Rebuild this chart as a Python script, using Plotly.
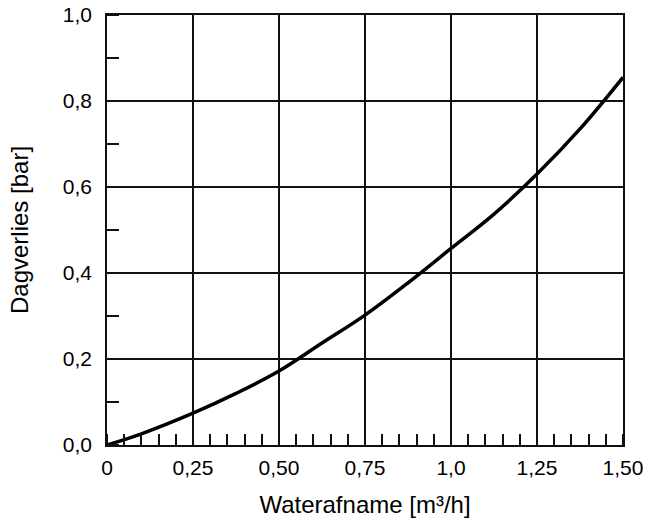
import plotly.graph_objects as go

# Data
flow = [0, 0.1, 0.25, 0.375, 0.5, 0.625, 0.75, 0.875, 1.0, 1.125, 1.25, 1.375, 1.5]
pressure_loss = [0, 0.026, 0.074, 0.12, 0.172, 0.237, 0.302, 0.377, 0.457, 0.537, 0.63, 0.735, 0.855]

x_tickvals = [0, 0.25, 0.5, 0.75, 1.0, 1.25, 1.5]
x_ticktext = ["0", "0,25", "0,50", "0,75", "1,0", "1,25", "1,50"]
y_tickvals = [0, 0.2, 0.4, 0.6, 0.8, 1.0]
y_ticktext = ["0,0", "0,2", "0,4", "0,6", "0,8", "1,0"]

font_family = "Liberation Sans, Arial, sans-serif"

fig = go.Figure()
fig.add_trace(go.Scatter(
    x=flow, y=pressure_loss, mode="lines",
    line=dict(color="black", width=3.5, shape="spline", smoothing=1.0),
    showlegend=False, hoverinfo="skip", cliponaxis=False,
))

axis_common = dict(
    showline=True, mirror=True, linecolor="#111", linewidth=1.5,
    showgrid=True, gridcolor="#111", gridwidth=1.5,
    zeroline=False, ticks="", automargin=False,
    tickfont=dict(family=font_family, size=21, color="black"),
)

fig.update_xaxes(
    range=[0, 1.5], tickvals=x_tickvals, ticktext=x_ticktext,
    ticklabelstandoff=3,
    title=dict(text="Waterafname [m³/h]", font=dict(family=font_family, size=24, color="black"), standoff=18),
    minor=dict(dtick=0.05, tick0=0, ticks="inside", ticklen=11, tickcolor="#111", tickwidth=1.5, showgrid=False),
    **axis_common,
)
fig.update_yaxes(
    range=[0, 1.0], tickvals=y_tickvals, ticktext=y_ticktext,
    ticklabelstandoff=9,
    title=dict(text="Dagverlies [bar]", font=dict(family=font_family, size=24, color="black"), standoff=27),
    minor=dict(dtick=0.1, tick0=0, ticks="inside", ticklen=12, tickcolor="#111", tickwidth=1.5, showgrid=False),
    **axis_common,
)

fig.update_layout(
    width=648, height=520,
    margin=dict(l=107, r=25, t=15, b=75),
    plot_bgcolor="white", paper_bgcolor="white",
    font=dict(family=font_family, color="black"),
)

fig.write_html(
    "out.html",
    config={"displayModeBar": False},
    post_script="document.body.style.margin='0';document.body.style.overflow='hidden';",
)
